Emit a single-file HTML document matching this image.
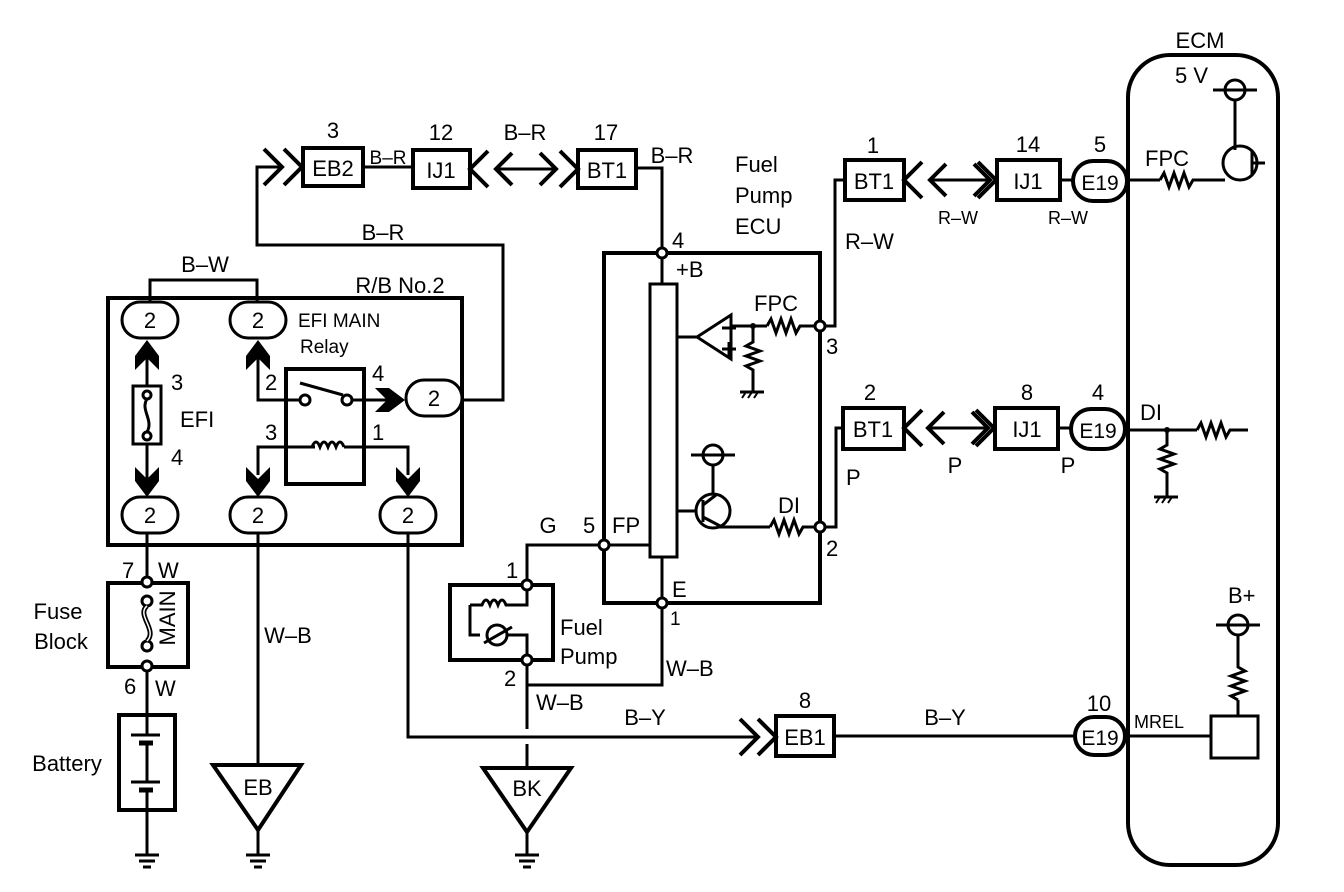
<!DOCTYPE html>
<html><head><meta charset="utf-8"><style>
html,body{margin:0;padding:0;background:#fff;}
svg{display:block;}
text{font-family:"Liberation Sans",sans-serif;fill:#000;}
</style></head><body>
<svg width="1344" height="892" viewBox="0 0 1344 892" xmlns="http://www.w3.org/2000/svg">
<defs>
<g id="gnd"><line x1="-12" y1="0" x2="12" y2="0" stroke="#000" stroke-width="3"/><line x1="-8" y1="6" x2="8" y2="6" stroke="#000" stroke-width="3"/><line x1="-4" y1="12" x2="4" y2="12" stroke="#000" stroke-width="3"/></g>
<path id="aup" d="M0 0 L12 16 L12 30 L0 18 L-12 30 L-12 16 Z" fill="#000"/>
<g id="chev"><polyline points="0,-18 18,0 0,18" fill="none" stroke="#000" stroke-width="4"/></g>
<g id="chevl"><polyline points="0,-18 -18,0 0,18" fill="none" stroke="#000" stroke-width="4"/></g>
<g id="dbl"><line x1="2" y1="0" x2="58" y2="0" stroke="#000" stroke-width="3"/><polyline points="16,-16 0,0 16,16" fill="none" stroke="#000" stroke-width="4"/><polyline points="44,-16 60,0 44,16" fill="none" stroke="#000" stroke-width="4"/></g>
<g id="plus"><circle cx="0" cy="0" r="10" fill="#fff" stroke="#000" stroke-width="3"/><line x1="-22" y1="0" x2="22" y2="0" stroke="#000" stroke-width="3"/></g>
</defs>
<g fill="none" stroke="#000" stroke-width="3" stroke-linejoin="miter">
<rect x="1128" y="55" width="150" height="810" rx="42" stroke-width="4"/>
<rect x="108" y="298" width="354" height="247" stroke-width="4"/>
<polyline points="150,302 150,280 257,280 257,302"/>
<rect x="122" y="302" width="56" height="36" rx="18" fill="#fff"/>
<rect x="230" y="302" width="56" height="36" rx="18" fill="#fff"/>
<rect x="406" y="380" width="56" height="36" rx="18" fill="#fff"/>
<rect x="122" y="497" width="56" height="36" rx="18" fill="#fff"/>
<rect x="230" y="497" width="56" height="36" rx="18" fill="#fff"/>
<rect x="380" y="497" width="56" height="36" rx="18" fill="#fff"/>
<line x1="147" y1="355" x2="147" y2="480"/>
<rect x="133" y="386" width="28" height="58" fill="#fff"/>
<circle cx="147" cy="395" r="4" fill="#fff"/><circle cx="147" cy="436" r="4" fill="#fff"/>
<path d="M147 399 C140 410, 154 420, 147 432"/>
<rect x="286" y="369" width="78" height="115" stroke-width="4"/>
<polyline points="258,355 258,400 300,400"/>
<circle cx="305" cy="400" r="5" fill="#fff"/><circle cx="347" cy="400" r="5" fill="#fff"/>
<line x1="300" y1="383" x2="343" y2="395"/>
<line x1="352" y1="400" x2="392" y2="400"/>
<polyline points="258,475 258,447 315,447"/>
<path d="M312 447 q4 -10 8 0 q4 -10 8 0 q4 -10 8 0 q4 -10 8 0" stroke-width="3"/>
<polyline points="344,447 408,447 408,475"/>
<polyline points="462,400 503,400 503,245 257,245 257,167 280,167"/>
<rect x="303" y="148" width="60" height="38" fill="#fff" stroke-width="4"/>
<line x1="363" y1="167" x2="413" y2="167"/>
<rect x="413" y="150" width="57" height="38" fill="#fff" stroke-width="4"/>
<rect x="578" y="150" width="58" height="38" fill="#fff" stroke-width="4"/>
<polyline points="636,168 662,168 662,253"/>
<rect x="604" y="253" width="216" height="350" stroke-width="4"/>
<line x1="662" y1="253" x2="662" y2="284"/>
<rect x="650" y="284" width="27" height="273" fill="#fff"/>
<line x1="662" y1="557" x2="662" y2="685"/>
<line x1="677" y1="337" x2="697" y2="337"/>
<polygon points="697,337 731,315 731,359" fill="#fff"/>
<line x1="722" y1="328" x2="736" y2="328"/><line x1="722" y1="349" x2="736" y2="349"/><line x1="729" y1="342" x2="729" y2="356"/>
<line x1="731" y1="326" x2="767" y2="326"/>
<path d="M767 326 l4 -7 l5 14 l5 -14 l5 14 l5 -14 l5 14 l4 -7 L815 326"/>
<path d="M753 326 L753 342 l-7 4 l14 5 l-14 5 l14 5 l-14 5 l7 4 L753 392"/>
<line x1="740" y1="392" x2="764" y2="392"/>
<path d="M742 398 l4 -6 M748 398 l4 -6 M754 398 l4 -6" stroke-width="2"/>
<line x1="677" y1="511" x2="697" y2="511"/>
<circle cx="713" cy="511" r="17" fill="#fff"/>
<line x1="703" y1="500" x2="703" y2="522"/>
<line x1="703" y1="505" x2="716" y2="495"/><line x1="703" y1="517" x2="722" y2="527"/>
<line x1="713" y1="494" x2="713" y2="465"/>
<use href="#plus" x="713" y="455"/>
<polyline points="718,527 770,527"/>
<path d="M770 527 l4 -7 l5 14 l5 -14 l5 14 l5 -14 l5 14 l4 -7 L815 527"/>
<line x1="604" y1="545" x2="650" y2="545"/>
<polyline points="527,585 527,545 604,545"/>
<circle cx="662" cy="253" r="5" fill="#fff"/>
<circle cx="820" cy="326" r="5" fill="#fff"/>
<circle cx="820" cy="527" r="5" fill="#fff"/>
<circle cx="604" cy="545" r="5" fill="#fff"/>
<circle cx="662" cy="603" r="5" fill="#fff"/>
<polyline points="662,608 662,685 527,685"/>
<rect x="450" y="585" width="103" height="75" stroke-width="4"/>
<polyline points="527,585 527,605 516,605"/>
<path d="M470 605 L470 635 L480 635"/>
<path d="M470 605 L482 605 q4 -10 8 0 q4 -10 8 0 q4 -10 8 0 L516 605"/>
<circle cx="497" cy="635" r="10" fill="#fff"/>
<path d="M484 643 L512 627" />
<polyline points="507,635 527,635 527,660"/>
<circle cx="527" cy="585" r="5" fill="#fff"/>
<circle cx="527" cy="660" r="5" fill="#fff"/>
<line x1="527" y1="665" x2="527" y2="729"/>
<line x1="527" y1="744" x2="527" y2="768"/>
<polygon points="483,768 571,768 527,832" stroke-width="4" fill="#fff"/>
<line x1="527" y1="832" x2="527" y2="855"/>
<line x1="258" y1="533" x2="258" y2="765"/>
<polygon points="213,765 301,765 258,830" stroke-width="4" fill="#fff"/>
<line x1="258" y1="830" x2="258" y2="855"/>
<polyline points="408,533 408,737 758,737"/>
<rect x="776" y="716" width="58" height="40" fill="#fff" stroke-width="4"/>
<line x1="834" y1="736" x2="1075" y2="736"/>
<rect x="1075" y="717" width="50" height="38" rx="19" fill="#fff" stroke-width="4"/>
<line x1="1128" y1="736" x2="1211" y2="736"/>
<rect x="1211" y="716" width="47" height="42" fill="#fff"/>
<line x1="1238" y1="716" x2="1238" y2="700"/>
<path d="M1238 700 l-7 -4 l14 -5 l-14 -5 l14 -5 l-14 -5 l14 -5 l-7 -4 L1238 633"/>
<line x1="147" y1="533" x2="147" y2="582"/>
<rect x="108" y="583" width="80" height="84" stroke-width="4"/>
<circle cx="147" cy="582" r="5" fill="#fff"/>
<circle cx="147" cy="601" r="5" fill="#fff"/>
<circle cx="147" cy="646" r="5" fill="#fff"/>
<circle cx="147" cy="666" r="5" fill="#fff"/>
<path d="M147 606 C136 615, 158 630, 147 641" stroke-width="5"/>
<path d="M147 606 C136 615, 158 630, 147 641" stroke="#fff" stroke-width="1.5"/>
<line x1="147" y1="671" x2="147" y2="715"/>
<rect x="119" y="715" width="56" height="95" stroke-width="4"/>
<line x1="147" y1="715" x2="147" y2="735"/>
<line x1="131" y1="735" x2="160" y2="735"/><line x1="139" y1="743" x2="153" y2="743" stroke-width="5"/>
<line x1="147" y1="743" x2="147" y2="782"/>
<line x1="131" y1="782" x2="160" y2="782"/><line x1="139" y1="790" x2="153" y2="790" stroke-width="5"/>
<line x1="147" y1="790" x2="147" y2="855"/>
<polyline points="825,326 835,326 835,180 845,180"/>
<rect x="845" y="160" width="59" height="40" fill="#fff" stroke-width="4"/>
<rect x="997" y="160" width="63" height="40" fill="#fff" stroke-width="4"/>
<line x1="1060" y1="180" x2="1073" y2="180"/>
<rect x="1073" y="161" width="54" height="40" rx="20" fill="#fff" stroke-width="4"/>
<polyline points="825,527 836,527 836,428 843,428"/>
<rect x="843" y="408" width="61" height="41" fill="#fff" stroke-width="4"/>
<rect x="995" y="408" width="63" height="41" fill="#fff" stroke-width="4"/>
<line x1="1058" y1="428" x2="1071" y2="428"/>
<rect x="1071" y="409" width="54" height="40" rx="20" fill="#fff" stroke-width="4"/>
<line x1="1128" y1="180" x2="1160" y2="180"/>
<path d="M1160 180 l4 -7 l5 14 l5 -14 l5 14 l5 -14 l5 14 l4 -7 L1225 180"/>
<circle cx="1240" cy="163" r="17" fill="#fff"/>
<line x1="1252" y1="150" x2="1252" y2="176"/><line x1="1252" y1="163" x2="1265" y2="163"/>
<line x1="1235" y1="100" x2="1235" y2="150"/>
<use href="#plus" x="1235" y="90"/>
<line x1="1128" y1="430" x2="1197" y2="430"/>
<path d="M1197 430 l4 -7 l5 14 l5 -14 l5 14 l5 -14 l5 14 l4 -7 L1248 430"/>
<path d="M1167 430 L1167 445 l-7 4 l14 5 l-14 5 l14 5 l-14 5 l7 4 L1167 497"/>
<line x1="1154" y1="497" x2="1178" y2="497"/>
<path d="M1156 503 l4 -6 M1162 503 l4 -6 M1168 503 l4 -6" stroke-width="2"/>
<use href="#plus" x="1238" y="625"/>
</g>
<circle cx="1167" cy="430" r="3" fill="#000"/>
<circle cx="753" cy="326" r="3" fill="#000"/>
<use href="#aup" x="147" y="340"/>
<use href="#aup" x="258" y="340"/>
<use href="#aup" transform="translate(147,497) rotate(180)"/>
<use href="#aup" transform="translate(258,497) rotate(180)"/>
<use href="#aup" transform="translate(408,497) rotate(180)"/>
<use href="#aup" transform="translate(405,400) rotate(90)"/>
<use href="#chev" x="264" y="167"/><use href="#chev" x="284" y="167"/>
<use href="#chevl" x="488" y="169"/>
<use href="#dbl" x="496" y="169"/>
<use href="#chev" x="560" y="169"/>
<use href="#chevl" x="922" y="180"/>
<use href="#dbl" x="930" y="180"/>
<use href="#chev" x="978" y="180"/>
<use href="#chevl" x="922" y="428"/>
<use href="#dbl" x="928" y="428"/>
<use href="#chev" x="976" y="428"/>
<use href="#chev" x="740" y="737"/><use href="#chev" x="758" y="737"/>
<use href="#gnd" x="147" y="855"/>
<use href="#gnd" x="258" y="855"/>
<use href="#gnd" x="527" y="855"/>
<g font-size="22">
<text x="1200" y="48" text-anchor="middle">ECM</text>
<text x="1175" y="83">5 V</text>
<text x="1145" y="166">FPC</text>
<text x="1140" y="420">DI</text>
<text x="1228" y="603">B+</text>
<text x="1134" y="728" font-size="18">MREL</text>
<text x="1099" y="711" text-anchor="middle">10</text>
<text x="805" y="708" text-anchor="middle">8</text>
<text x="945" y="725" text-anchor="middle">B–Y</text>
<text x="645" y="725" text-anchor="middle">B–Y</text>
<text x="805" y="745" text-anchor="middle">EB1</text>
<text x="1100" y="745" text-anchor="middle" font-size="21">E19</text>
<text x="333" y="138" text-anchor="middle">3</text>
<text x="441" y="140" text-anchor="middle">12</text>
<text x="525" y="140" text-anchor="middle">B–R</text>
<text x="606" y="140" text-anchor="middle">17</text>
<text x="672" y="163" text-anchor="middle">B–R</text>
<text x="388" y="164" text-anchor="middle" font-size="19">B–R</text>
<text x="333" y="176" text-anchor="middle">EB2</text>
<text x="441" y="178" text-anchor="middle">IJ1</text>
<text x="607" y="178" text-anchor="middle">BT1</text>
<text x="383" y="240" text-anchor="middle">B–R</text>
<text x="205" y="272" text-anchor="middle">B–W</text>
<text x="400" y="293" text-anchor="middle">R/B No.2</text>
<text x="150" y="328" text-anchor="middle">2</text>
<text x="258" y="328" text-anchor="middle">2</text>
<text x="434" y="406" text-anchor="middle">2</text>
<text x="150" y="523" text-anchor="middle">2</text>
<text x="258" y="523" text-anchor="middle">2</text>
<text x="408" y="523" text-anchor="middle">2</text>
<text x="298" y="327" font-size="19">EFI MAIN</text>
<text x="300" y="353" font-size="19">Relay</text>
<text x="171" y="390">3</text>
<text x="180" y="427">EFI</text>
<text x="171" y="465">4</text>
<text x="265" y="390">2</text>
<text x="372" y="381">4</text>
<text x="265" y="440">3</text>
<text x="372" y="440">1</text>
<text x="122" y="578">7</text>
<text x="158" y="578">W</text>
<text x="58" y="619" text-anchor="middle">Fuse</text>
<text x="61" y="649" text-anchor="middle">Block</text>
<text x="124" y="694">6</text>
<text x="155" y="696">W</text>
<text x="67" y="771" text-anchor="middle">Battery</text>
<text x="182" y="625" text-anchor="middle" transform="rotate(-90 175 625)">MAIN</text>
<text x="288" y="643" text-anchor="middle">W–B</text>
<text x="258" y="795" text-anchor="middle">EB</text>
<text x="527" y="796" text-anchor="middle">BK</text>
<text x="548" y="533" text-anchor="middle">G</text>
<text x="583" y="533">5</text>
<text x="612" y="533">FP</text>
<text x="506" y="578">1</text>
<text x="560" y="635">Fuel</text>
<text x="560" y="664">Pump</text>
<text x="504" y="686">2</text>
<text x="536" y="710">W–B</text>
<text x="666" y="676">W–B</text>
<text x="672" y="597">E</text>
<text x="670" y="625" font-size="19">1</text>
<text x="672" y="248">4</text>
<text x="676" y="277">+B</text>
<text x="754" y="311">FPC</text>
<text x="826" y="354">3</text>
<text x="778" y="513">DI</text>
<text x="826" y="556">2</text>
<text x="735" y="172">Fuel</text>
<text x="735" y="203">Pump</text>
<text x="735" y="234">ECU</text>
<text x="873" y="153" text-anchor="middle">1</text>
<text x="874" y="189" text-anchor="middle">BT1</text>
<text x="1028" y="152" text-anchor="middle">14</text>
<text x="1028" y="189" text-anchor="middle">IJ1</text>
<text x="1100" y="152" text-anchor="middle">5</text>
<text x="1100" y="190" text-anchor="middle" font-size="21">E19</text>
<text x="958" y="224" text-anchor="middle" font-size="18">R–W</text>
<text x="1068" y="224" text-anchor="middle" font-size="18">R–W</text>
<text x="845" y="249">R–W</text>
<text x="870" y="400" text-anchor="middle">2</text>
<text x="873" y="437" text-anchor="middle">BT1</text>
<text x="1027" y="400" text-anchor="middle">8</text>
<text x="1027" y="437" text-anchor="middle">IJ1</text>
<text x="1098" y="400" text-anchor="middle">4</text>
<text x="1098" y="438" text-anchor="middle" font-size="21">E19</text>
<text x="955" y="473" text-anchor="middle">P</text>
<text x="1068" y="473" text-anchor="middle">P</text>
<text x="846" y="485">P</text>
</g>
</svg>
</body></html>
